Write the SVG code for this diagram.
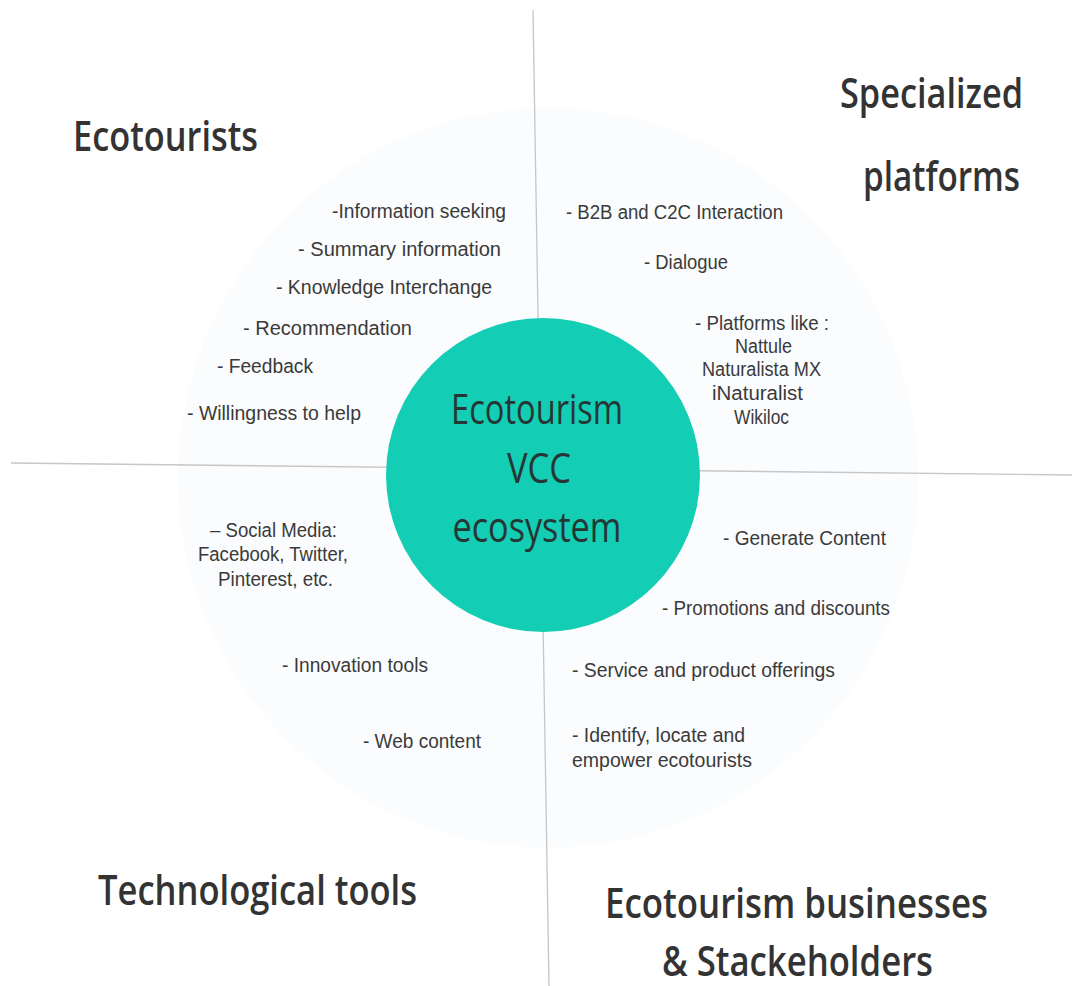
<svg xmlns="http://www.w3.org/2000/svg" width="1072" height="986" viewBox="0 0 1072 986">
<style>
text{font-family:"Liberation Sans","Noto Sans",sans-serif;fill:#3a3a3a;}
.t{font-family:"Open Sans","Liberation Sans",sans-serif;font-size:42px;font-weight:600;fill:#333333;}
.s{font-size:20px;}
.c{font-family:"Open Sans","Liberation Sans",sans-serif;font-size:42px;font-weight:500;fill:#263634;}
.ln{stroke:#c6c6c6;stroke-width:1.3;fill:none;}
</style>
<rect width="1072" height="986" fill="#ffffff"/>
<circle id="bg" cx="548" cy="478" r="370" fill="#fbfcfd"/>
<g id="connectors">
<line class="ln" x1="533" y1="10" x2="549" y2="986"/>
<line class="ln" x1="11" y1="463" x2="1072" y2="475"/>
</g>
<g id="center">
<circle cx="543" cy="475" r="157" fill="#13cdb5"/>
<text class="c" x="537" y="424" text-anchor="middle" textLength="172" lengthAdjust="spacingAndGlyphs">Ecotourism</text>
<text class="c" x="539" y="483" text-anchor="middle" textLength="64" lengthAdjust="spacingAndGlyphs">VCC</text>
<text class="c" x="537" y="542" text-anchor="middle" textLength="169" lengthAdjust="spacingAndGlyphs">ecosystem</text>
</g>
<g id="ecotourists">
<text class="t" x="73" y="151" textLength="185" lengthAdjust="spacingAndGlyphs">Ecotourists</text>
<text class="s" x="332" y="218" textLength="174" lengthAdjust="spacingAndGlyphs">-Information seeking</text>
<text class="s" x="298" y="256" textLength="203" lengthAdjust="spacingAndGlyphs">- Summary information</text>
<text class="s" x="276" y="294" textLength="216" lengthAdjust="spacingAndGlyphs">- Knowledge Interchange</text>
<text class="s" x="243" y="335" textLength="169" lengthAdjust="spacingAndGlyphs">- Recommendation</text>
<text class="s" x="217" y="373" textLength="96" lengthAdjust="spacingAndGlyphs">- Feedback</text>
<text class="s" x="187" y="420" textLength="174" lengthAdjust="spacingAndGlyphs">- Willingness to help</text>
</g>
<g id="platforms">
<text class="t" x="840" y="108" textLength="183" lengthAdjust="spacingAndGlyphs">Specialized</text>
<text class="t" x="863" y="191" textLength="157" lengthAdjust="spacingAndGlyphs">platforms</text>
<text class="s" x="566" y="219" textLength="217" lengthAdjust="spacingAndGlyphs">- B2B and C2C Interaction</text>
<text class="s" x="644" y="269" textLength="84" lengthAdjust="spacingAndGlyphs">- Dialogue</text>
<text class="s" x="695" y="330" textLength="134" lengthAdjust="spacingAndGlyphs">- Platforms like :</text>
<text class="s" x="735" y="353" textLength="57" lengthAdjust="spacingAndGlyphs">Nattule</text>
<text class="s" x="702" y="376" textLength="119" lengthAdjust="spacingAndGlyphs">Naturalista MX</text>
<text class="s" x="712" y="400" textLength="91" lengthAdjust="spacingAndGlyphs">iNaturalist</text>
<text class="s" x="734" y="424" textLength="55" lengthAdjust="spacingAndGlyphs">Wikiloc</text>
</g>
<g id="tools">
<text class="t" x="98" y="905" textLength="319" lengthAdjust="spacingAndGlyphs">Technological tools</text>
<text class="s" x="210" y="537" textLength="127" lengthAdjust="spacingAndGlyphs">– Social Media:</text>
<text class="s" x="198" y="561" textLength="150" lengthAdjust="spacingAndGlyphs">Facebook, Twitter,</text>
<text class="s" x="218" y="586" textLength="115" lengthAdjust="spacingAndGlyphs">Pinterest, etc.</text>
<text class="s" x="282" y="672" textLength="146" lengthAdjust="spacingAndGlyphs">- Innovation tools</text>
<text class="s" x="363" y="748" textLength="118" lengthAdjust="spacingAndGlyphs">- Web content</text>
</g>
<g id="businesses">
<text class="t" x="605" y="918" textLength="383" lengthAdjust="spacingAndGlyphs">Ecotourism businesses</text>
<text class="t" x="662" y="976" textLength="271" lengthAdjust="spacingAndGlyphs">&amp; Stackeholders</text>
<text class="s" x="723" y="545" textLength="163" lengthAdjust="spacingAndGlyphs">- Generate Content</text>
<text class="s" x="662" y="615" textLength="228" lengthAdjust="spacingAndGlyphs">- Promotions and discounts</text>
<text class="s" x="572" y="677" textLength="263" lengthAdjust="spacingAndGlyphs">- Service and product offerings</text>
<text class="s" x="572" y="742" textLength="173" lengthAdjust="spacingAndGlyphs">- Identify, locate and</text>
<text class="s" x="572" y="767" textLength="180" lengthAdjust="spacingAndGlyphs">empower ecotourists</text>
</g>
</svg>
